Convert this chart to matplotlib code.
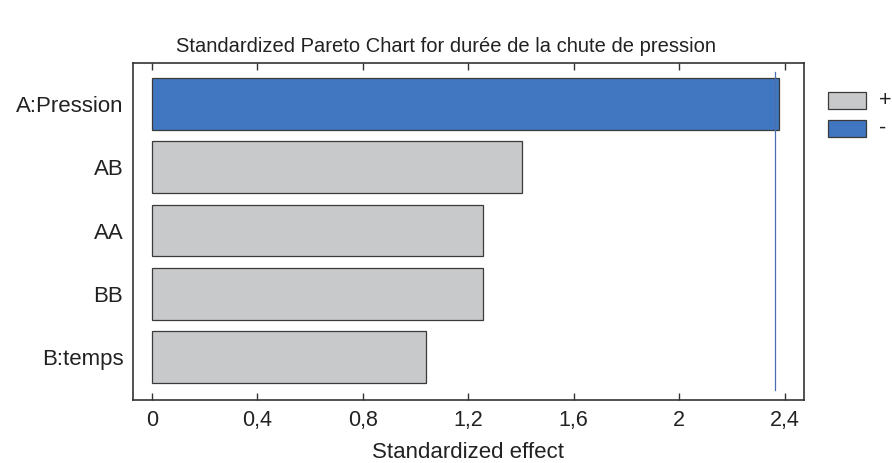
import matplotlib
matplotlib.use("Agg")
import matplotlib.pyplot as plt
from matplotlib.patches import Rectangle

plt.rcParams['font.family'] = ['Liberation Sans', 'DejaVu Sans']

# effects, top to bottom
labels = ["A:Pression", "AB", "AA", "BB", "B:temps"]
effects = [2.378, 1.405, 1.257, 1.257, 1.04]
signs = ["-", "+", "+", "+", "+"]
crit = 2.364
xticks = [0, 0.4, 0.8, 1.2, 1.6, 2.0, 2.4]
xticklabels = ["0", "0,4", "0,8", "1,2", "1,6", "2", "2,4"]
legend_labels = ["+", "-"]

col_pos = "#c8c9cb"
col_neg = "#4177c0"
edge = "#3a3a3a"
W, H = 892, 463

fig = plt.figure(figsize=(8.92, 4.63), dpi=100)
ax = fig.add_axes([133/W, 1 - 400/H, (804-133)/W, (400-63)/H])

ypos = list(range(len(labels)))
colors = [col_neg if s == "-" else col_pos for s in signs]
ax.barh(ypos, effects, height=0.82, color=colors, edgecolor=edge, linewidth=0.9)
ax.plot([crit, crit], [-0.5, 4.52], color="#4a6fb0", linewidth=0.9)

ax.set_ylim(4.68, -0.65)
ax.set_xlim(-0.071, 2.473)
ax.set_yticks(ypos)
ax.set_yticklabels(labels, fontsize=16, color="#222222")
ax.set_xticks(xticks)
ax.set_xticklabels(xticklabels, fontsize=15.5, color="#222222")
ax.tick_params(axis='x', direction='in', top=True, length=5, width=1, color="#333333", pad=7)
ax.tick_params(axis='y', length=0, pad=7)
for sp in ax.spines.values():
    sp.set_color("#333333")
    sp.set_linewidth(1.2)

ax.set_xlabel("Standardized effect", fontsize=16, labelpad=8, color="#222222")
fig.text(0.5, 1 - 46/H, "Standardized Pareto Chart for durée de la chute de pression",
         ha='center', va='center', fontsize=14.5, color="#222222")

# legend drawn by hand
for k, (lab, c) in enumerate(zip(legend_labels, [col_pos, col_neg])):
    y0 = 92 + 28 * k
    fig.patches.append(Rectangle((828/W, 1 - (y0 + 17)/H), 38/W, 17/H, facecolor=c,
                                 edgecolor=edge, linewidth=0.9, transform=fig.transFigure))
    fig.text(879/W, 1 - (y0 + 8.5)/H, lab, ha='left', va='center', fontsize=15.5, color="#222222")

fig.savefig("out.png", dpi=100)
